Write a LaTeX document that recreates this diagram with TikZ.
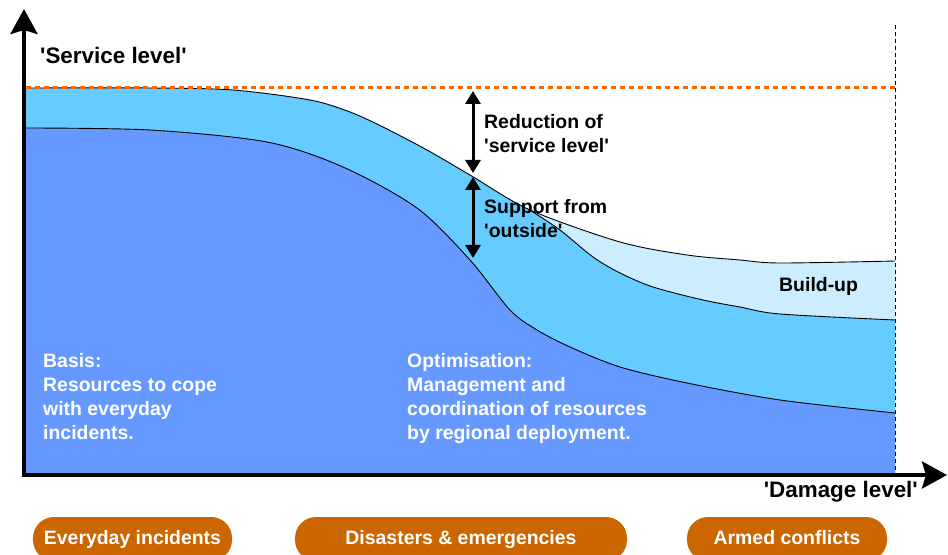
\documentclass[tikz,border=0pt]{standalone}
\usepackage{fontspec}
\setmainfont{Liberation Sans}
\usetikzlibrary{arrows.meta}

\definecolor{basisblue}{HTML}{6699FF}
\definecolor{supportblue}{HTML}{66CCFF}
\definecolor{buildblue}{HTML}{CCECFF}
\definecolor{limitorange}{HTML}{FF6600}
\definecolor{caseorange}{HTML}{CC6600}
\newcommand{\q}{\textquotesingle}

\tikzset{
  axisline/.style={line width=4bp, line cap=rect, -{Stealth[length=25bp, width=27bp, inset=4bp]}},
  rangearrow/.style={line width=3bp, {Triangle[length=13bp, width=15bp]}-{Triangle[length=13bp, width=15bp]}},
  boundary/.style={line width=0.9bp},
  note/.style={inner sep=0, align=left, font=\bfseries\fontsize{19.5}{24}\selectfont},
  axisname/.style={inner sep=0, font=\bfseries\fontsize{22.5}{27}\selectfont},
  casebox/.style={fill=caseorange, text=white, rounded corners=21bp, minimum height=44bp,
    inner sep=0, text height=14bp, text depth=4bp, font=\bfseries\fontsize{19.5}{24}\selectfont}
}

\begin{document}
\begin{tikzpicture}[x=1bp, y=-1bp]
\useasboundingbox (0,0) rectangle (948,555);
\clip (0,0) rectangle (948,555);

% areas under the curves
\fill[buildblue] (26,475) -- plot[smooth] coordinates {(26,88) (150,88) (233,90) (310,100) (350,112) (383,127) (427,150) (470,175) (530,210) (620,242) (687,255) (740,260) (780,263) (895,261)} -- (895,475) -- cycle;
\begin{scope}
\clip (26,475) -- plot[smooth] coordinates {(26,88) (150,88) (233,90) (310,100) (350,112) (383,127) (427,150) (470,175) (530,210) (620,242) (687,255) (740,260) (780,263) (895,261)} -- (895,475) -- cycle;
\fill[supportblue] (0,0) -- (480,0) -- plot[smooth] coordinates {(480,176) (530,210) (560,230) (593,257) (620,273) (653,287) (703,300) (740,307) (780,314) (895,320)} -- (895,475) -- (0,475) -- cycle;
\draw[boundary] plot[smooth] coordinates {(480,176) (530,210) (560,230) (593,257) (620,273) (653,287) (703,300) (740,307) (780,314) (895,320)};
\end{scope}
\fill[basisblue] (26,475) -- plot[smooth] coordinates {(26,128) (150,130) (267,142) (343,167) (417,208) (470,260) (510,310) (537,330) (570,347) (620,367) (687,383) (780,400) (895,413)} -- (895,475) -- cycle;
\draw[boundary] plot[smooth] coordinates {(26,128) (150,130) (267,142) (343,167) (417,208) (470,260) (510,310) (537,330) (570,347) (620,367) (687,383) (780,400) (895,413)};
\draw[boundary] plot[smooth] coordinates {(26,88) (150,88) (233,90) (310,100) (350,112) (383,127) (427,150) (470,175) (530,210) (620,242) (687,255) (740,260) (780,263) (895,261)};

\coordinate (edgetop) at (895,25);
\coordinate (edgebottom) at (895,473);
\draw[line width=0.8bp, dash pattern=on 4bp off 3bp] (edgetop) -- (edgebottom);

\coordinate (limitstart) at (26,87.5);
\coordinate (limitend) at (895,87.5);
\draw[limitorange, line width=3.5bp, dash pattern=on 4.5bp off 4.5bp] (limitstart) -- (limitend);

% axes
\coordinate (origin) at (24,475);
\coordinate (ytip) at (24,9);
\coordinate (xtip) at (947,475);
\draw[axisline] (origin) -- (ytip);
\draw[axisline] (origin) -- (xtip);

\coordinate (reductiontop) at (473,91);
\coordinate (reductionbottom) at (473,173);
\coordinate (supporttop) at (473,177);
\coordinate (supportbottom) at (473,258);
\draw[rangearrow] (reductiontop) -- (reductionbottom);
\draw[rangearrow] (supporttop) -- (supportbottom);

\node[axisname, anchor=north west] (servicelevel) at (40,47) {\q Service level\q};
\node[axisname, anchor=base east] (damagelevel) at (918,497) {\q Damage level\q};

\node[note, anchor=north west] (reduction) at (484,114) {Reduction of\\\q service level\q};
\node[note, anchor=north west] (support) at (484,199) {Support from\\\q outside\q};
\node[note, anchor=base west] (buildup) at (779,292) {Build-up};
\node[note, text=white, anchor=north west] (basis) at (43,353) {Basis:\\Resources to cope\\with everyday\\incidents.};
\node[note, text=white, anchor=north west] (optimisation) at (407,353) {Optimisation:\\Management and\\coordination of resources\\by regional deployment.};

\node[casebox, minimum width=199bp] (everyday) at (132.5,539) {Everyday incidents};
\node[casebox, minimum width=332bp] (disasters) at (461,539) {Disasters \& emergencies};
\node[casebox, minimum width=200bp] (armed) at (787,539) {Armed conflicts};
\end{tikzpicture}
\end{document}
